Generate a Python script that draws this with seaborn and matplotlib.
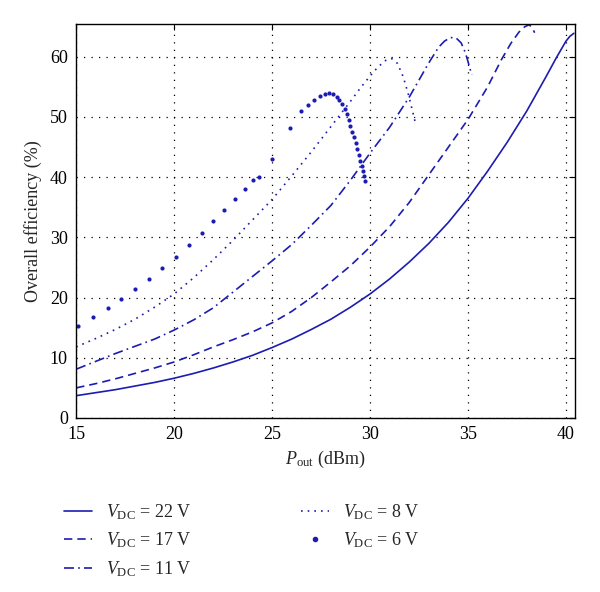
import numpy as np
import pandas as pd
import matplotlib
matplotlib.use("Agg")
import matplotlib.pyplot as plt
import seaborn as sns
from matplotlib.lines import Line2D

# V_DC = 22 V (solid)
x_22 = [15, 16, 17, 18, 19, 20, 21, 22, 23, 24, 25, 26, 27, 28, 29, 30, 31, 32, 33, 34, 35,
        36, 37, 38, 39, 39.5, 40, 40.2, 40.4]
y_22 = [3.7, 4.2, 4.7, 5.3, 5.9, 6.6, 7.4, 8.3, 9.3, 10.4, 11.7, 13.1, 14.7, 16.4, 18.4, 20.6,
        23.1, 25.9, 29.0, 32.5, 36.5, 41.0, 45.8, 51.0, 56.8, 59.8, 62.6, 63.4, 63.9]

# V_DC = 17 V (dashed)
x_17 = [15, 16, 17, 18, 19, 20, 21, 22, 23, 24, 25, 26, 27, 28, 29, 30, 31, 32, 33, 34, 35,
        36, 36.7, 37.2, 37.6, 37.9, 38.1, 38.25, 38.4]
y_17 = [5.0, 5.7, 6.5, 7.4, 8.3, 9.3, 10.5, 11.8, 13.0, 14.3, 15.8, 17.7, 20.0, 22.6, 25.3,
        28.4, 31.8, 35.8, 40.4, 45.0, 49.6, 55.0, 59.5, 62.3, 64.1, 65.0, 65.3, 65.0, 64.0]

# V_DC = 11 V (dash-dot)
x_11 = [15, 16, 17, 18, 19, 20, 21, 22, 23, 24, 25, 26, 27, 28, 29, 30, 31, 32, 33, 33.5,
        33.8, 34.1, 34.4, 34.65, 34.85, 35.0, 35.1, 35.2]
y_11 = [8.1, 9.4, 10.7, 11.9, 13.1, 14.6, 16.3, 18.3, 20.9, 23.5, 26.1, 28.8, 32.0, 35.3,
        39.5, 44.0, 48.3, 53.3, 59.0, 61.6, 62.6, 63.2, 63.1, 62.3, 60.8, 59.2, 58.0, 57.0]

# V_DC = 8 V (dotted)
x_8 = [15, 16, 17, 18, 19, 20, 21, 22, 23, 24, 25, 26, 27, 28, 29, 29.5, 30, 30.4, 30.8,
       31.1, 31.4, 31.7, 31.95, 32.15, 32.3]
y_8 = [11.8, 13.2, 14.7, 16.4, 18.4, 20.6, 23.3, 26.3, 29.5, 32.9, 36.3, 40.2, 44.2, 48.4,
       52.6, 54.8, 56.8, 58.3, 59.4, 59.7, 58.9, 56.6, 53.8, 51.2, 49.2]

# V_DC = 6 V (large dots)
x_6 = [15.07, 15.85, 16.6, 17.3, 18.0, 18.7, 19.4, 20.07, 20.77, 21.4, 22.0, 22.55, 23.1, 23.6,
       24.03, 24.35, 24.98, 25.9, 26.45, 26.83, 27.16, 27.45, 27.7, 27.92, 28.12, 28.3, 28.43,
       28.57, 28.7, 28.8, 28.93, 29.0, 29.1, 29.2, 29.27, 29.35, 29.44, 29.5, 29.58, 29.63, 29.7, 29.73]
y_6 = [15.3, 16.8, 18.2, 19.8, 21.4, 23.1, 24.9, 26.8, 28.7, 30.7, 32.7, 34.6, 36.3, 38.0,
       39.5, 40.1, 43.0, 48.1, 51.0, 52.0, 52.9, 53.5, 53.9, 54.0, 53.8, 53.4, 52.8,
       52.1, 51.3, 50.5, 49.5, 48.5, 47.5, 46.6, 45.6, 44.6, 43.7, 42.7, 41.9, 41.1, 40.2, 39.4]

labels = ["22", "17", "11", "8", "6"]
xticks = [15, 20, 25, 30, 35, 40]
yticks = [0, 10, 20, 30, 40, 50, 60]

sns.set_style("white")
plt.rcParams["font.family"] = ["Liberation Serif", "DejaVu Serif"]
plt.rcParams["mathtext.fontset"] = "custom"
plt.rcParams["mathtext.rm"] = "Liberation Serif"
plt.rcParams["mathtext.it"] = "Liberation Serif:italic"

blue = "#1c1cb0"
dash = (0, (5, 3))
dashdot = (0, (6, 2.5, 1, 2.5))
dots = (0, (1, 3))

fig = plt.figure(figsize=(6.0, 5.92), dpi=100)
ax = fig.add_axes([0.127, 0.294, 0.831, 0.666])

sns.lineplot(x=x_22, y=y_22, ax=ax, color=blue, lw=1.2, sort=False, estimator=None)
sns.lineplot(x=x_17, y=y_17, ax=ax, color=blue, lw=1.2, sort=False, estimator=None,
             linestyle=dash)
sns.lineplot(x=x_11, y=y_11, ax=ax, color=blue, lw=1.2, sort=False, estimator=None,
             linestyle=dashdot)
sns.lineplot(x=x_8, y=y_8, ax=ax, color=blue, lw=1.2, sort=False, estimator=None,
             linestyle=dots)
sns.scatterplot(x=x_6, y=y_6, ax=ax, color=blue, s=9, linewidth=0)

ax.set_xlim(15, 40.45)
ax.set_ylim(0, 65.5)
ax.set_xticks(xticks)
ax.set_yticks(yticks)
ax.grid(True, color="black", linestyle=(0, (1, 5)), linewidth=0.9)
ax.tick_params(direction="in", top=True, right=True, length=4, width=0.8,
               labelsize=13, colors="black", pad=6)
for sp in ax.spines.values():
    sp.set_color("black")
    sp.set_linewidth(1.0)

ax.set_xlabel(r"$P_{\rm out}$ (dBm)", fontsize=13, labelpad=4)
ax.set_ylabel("Overall efficiency (%)", fontsize=13, labelpad=6)

handles = [
    Line2D([], [], color=blue, lw=1.2),
    Line2D([], [], color=blue, lw=1.2, linestyle=dash),
    Line2D([], [], color=blue, lw=1.2, linestyle=dashdot),
    Line2D([], [], color=blue, lw=1.2, linestyle=dots),
    Line2D([], [], color=blue, lw=0, marker="o", markersize=3),
]
leg_labels = [r"$V_{\rm DC}$ = %s V" % v for v in labels]
fig.legend(handles, leg_labels, loc="upper left", bbox_to_anchor=(0.08, 0.179),
           ncol=2, frameon=False, fontsize=13, handlelength=1.55,
           columnspacing=6.05, labelspacing=0.48, handletextpad=0.78)

fig.savefig("out.png", dpi=100)
